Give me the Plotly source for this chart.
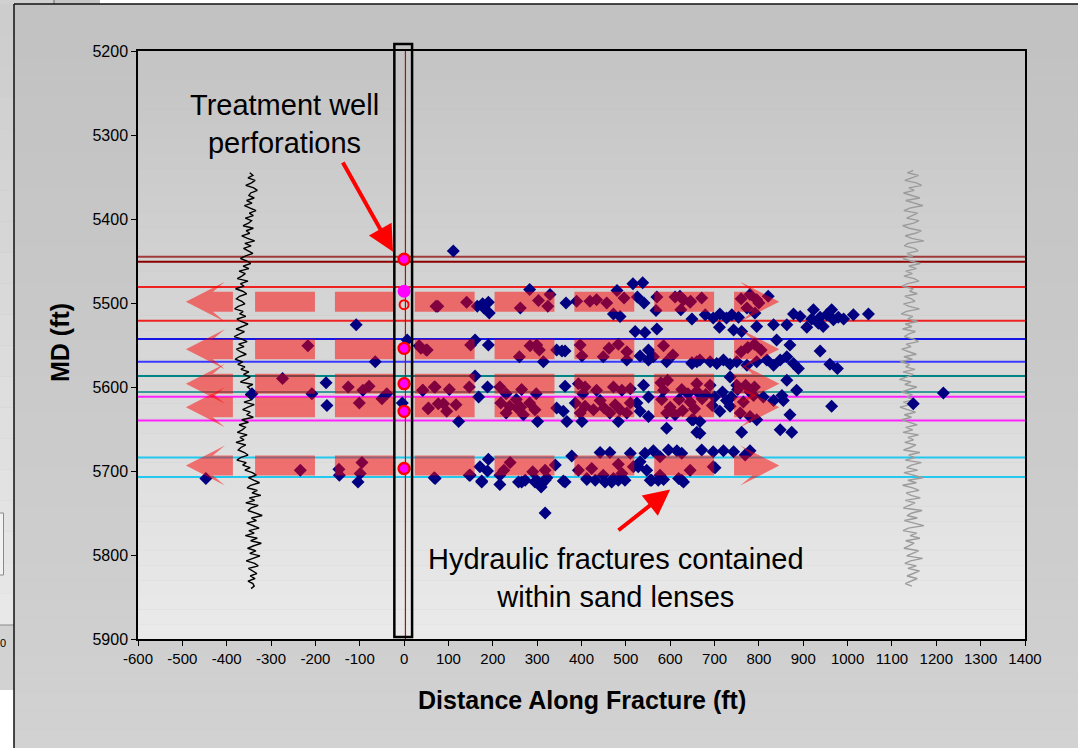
import plotly.graph_objects as go

# ---------------- data ----------------
# microseismic event locations (distance along fracture ft, measured depth ft)
ev_x = [-447,-234,-147,-146,-95,-99,-104,68,-108,-217,-65,34,50,7,-274,-176,-343,-208,-126,-93,-79,-39,-50,-101,-174,-4,42,68,54,77,72,
        111,283,76,141,165,177,190,192,180,262,303,324,329,365,389,419,434,457,480,496,472,487,516,538,526,541,570,568,611,630,646,624,649,543,570,
        38,52,150,160,190,284,299,305,260,314,344,356,363,397,401,449,462,483,502,502,532,551,551,562,521,585,606,592,649,660,
        160,42,70,102,147,188,168,216,230,265,298,363,393,408,403,434,472,491,510,540,551,579,594,585,
        55,89,117,96,123,218,230,253,263,283,295,269,238,255,301,344,359,367,386,397,408,427,442,451,464,476,487,502,510,401,483,525,532,551,581,600,592,611,592,660,652,
        190,171,188,175,70,147,216,239,225,258,273,290,299,311,318,322,341,359,378,393,412,423,442,449,464,472,483,491,510,517,532,543,562,577,596,615,577,558,547,626,645,
        149,175,216,265,295,309,318,363,318,412,431,453,468,483,498,555,573,585,619,630,528,701,
        821,795,773,622,645,671,679,697,712,727,739,754,711,743,791,795,761,833,863,878,893,908,923,934,953,964,979,991,1013,1047,919,938,945,968,
        840,870,938,649,667,690,705,720,735,750,773,795,818,833,848,863,878,889,960,977,863,885,
        735,788,810,833,852,855,712,735,758,780,795,870,964,1148,1216,649,667,667,761,848,874,
        671,697,720,743,780,769,697,626,
        626,640,660,680,700,718,738,752,620,645,672,695,727,690,660,750,765,628,655,
        775,790,805,760,780,800,760,770,790,780]
ev_md = [5709,5699,5698,5705,5690,5703,5713,5708,5526,5551,5570,5551,5556,5544,5590,5595,5608,5608,5600,5604,5599,5608,5614,5619,5622,5619,5604,5600,5626,5620,5504,
         5438,5484,5504,5499,5504,5501,5499,5512,5506,5506,5497,5504,5490,5500,5498,5498,5496,5500,5485,5494,5513,5516,5477,5476,5493,5500,5493,5509,5493,5496,5498,5508,5519,5535,5531,
         5554,5556,5550,5544,5550,5551,5550,5556,5564,5570,5556,5557,5557,5550,5563,5564,5554,5549,5558,5568,5563,5556,5568,5564,5534,5551,5562,5570,5572,5570,
         5587,5604,5600,5603,5600,5600,5612,5600,5608,5603,5608,5599,5596,5600,5608,5604,5600,5604,5602,5598,5612,5595,5592,5604,
         5625,5620,5621,5629,5641,5619,5631,5615,5624,5619,5627,5633,5623,5625,5641,5625,5629,5641,5619,5631,5623,5627,5616,5625,5631,5621,5627,5631,5619,5641,5641,5619,5629,5635,5615,5624,5631,5633,5649,5654,5639,
         5686,5695,5700,5712,5709,5705,5705,5690,5699,5713,5711,5701,5711,5715,5699,5708,5693,5712,5682,5699,5709,5697,5678,5705,5678,5709,5692,5703,5679,5695,5689,5679,5676,5683,5675,5676,5705,5711,5699,5711,5699,
         5705,5713,5716,5713,5713,5719,5711,5713,5750,5710,5711,5713,5713,5711,5711,5711,5711,5710,5709,5713,5695,5696,
         5492,5496,5506,5492,5499,5494,5514,5518,5513,5518,5514,5517,5529,5532,5512,5528,5534,5526,5526,5513,5516,5529,5508,5524,5514,5508,5517,5519,5514,5513,5519,5517,5528,5520,
         5544,5550,5557,5571,5568,5570,5572,5568,5573,5570,5574,5570,5568,5574,5568,5564,5572,5578,5573,5578,5592,5604,
         5588,5610,5612,5616,5610,5616,5629,5623,5631,5635,5639,5633,5623,5620,5607,5639,5641,5655,5654,5651,5654,
         5675,5677,5676,5677,5676,5681,5695,5679,
         5603,5608,5605,5609,5612,5606,5612,5603,5615,5618,5614,5622,5616,5598,5596,5598,5618,5628,5626,
         5553,5549,5556,5558,5490,5500,5495,5598,5600,5606]

# treatment well perforations (MD)
perf_ring_md = [5448, 5554, 5596, 5629, 5697]
perf_solid_md = [5486]
perf_open_md = [5502]

# horizon tops (MD) and their colours
horizon_md = [5445, 5451, 5481, 5521, 5543, 5570, 5587, 5606, 5611.5, 5640, 5684, 5707]
horizon_col = ["#a03a3a", "#8b0000", "#ee2222", "#ee2222", "#1515e6", "#3a3aff",
               "#008585", "#3a9a9a", "#ff22ff", "#ff22ff", "#22c8ee", "#22c8ee"]

# sand-lens fracture bands (centre MD) and dash starts along fracture (ft)
band_md = [5498.5, 5555, 5596, 5624, 5693.5]
dash_start = [-336, -156, 24, 204, 384, 564]
dash_len = 135

# log curves (x position in chart units), sampled every 3 ft
log1_md = list(range(5345, 5843, 3))
log1_x = [-348,-341,-352,-336,-344,-357,-339,-331,-346,-350,
          -338,-355,-343,-360,-347,-334,-349,-340,-358,-344,
          -351,-363,-340,-356,-348,-366,-353,-337,-359,-345,
          -362,-350,-341,-357,-369,-354,-346,-363,-350,-372,
          -358,-366,-376,-352,-369,-361,-380,-364,-355,-371,
          -378,-366,-359,-374,-382,-363,-370,-357,-377,-368,
          -352,-365,-379,-360,-371,-383,-366,-354,-373,-361,
          -378,-369,-356,-372,-381,-364,-375,-359,-368,-350,
          -362,-347,-357,-369,-341,-353,-346,-336,-358,-349,
          -343,-361,-338,-352,-364,-347,-355,-340,-366,-351,
          -372,-358,-365,-376,-354,-370,-361,-379,-357,-368,
          -374,-360,-352,-369,-377,-356,-364,-347,-359,-342,
          -333,-351,-338,-326,-346,-354,-331,-343,-323,-349,
          -337,-357,-329,-345,-352,-336,-320,-344,-333,-355,
          -341,-327,-350,-338,-358,-331,-346,-322,-339,-353,
          -334,-348,-325,-343,-356,-337,-329,-351,-340,-332,
          -347,-336,-352,-341,-338,-345]
log2_md = list(range(5342, 5840, 3))
log2_x = [1148,1135,1160,1142,1129,1155,1167,1138,1150,1126,
          1144,1163,1131,1152,1170,1140,1127,1158,1146,1133,
          1161,1149,1124,1139,1166,1153,1130,1145,1172,1136,
          1128,1151,1159,1134,1147,1125,1142,1164,1138,1155,
          1131,1146,1127,1150,1161,1135,1123,1148,1140,1157,
          1129,1144,1152,1126,1139,1162,1133,1121,1147,1136,
          1158,1130,1145,1124,1153,1137,1128,1149,1160,1132,
          1143,1122,1138,1155,1127,1146,1119,1140,1131,1152,
          1125,1148,1134,1117,1143,1129,1156,1137,1121,1146,
          1133,1150,1126,1141,1118,1135,1153,1128,1144,1122,
          1139,1157,1131,1147,1125,1160,1136,1149,1129,1154,
          1142,1126,1163,1138,1151,1130,1166,1144,1133,1158,
          1127,1149,1170,1136,1155,1124,1147,1161,1132,1143,
          1164,1130,1152,1139,1126,1168,1145,1134,1157,1128,
          1149,1172,1137,1125,1156,1141,1163,1131,1150,1138,
          1127,1160,1146,1133,1169,1142,1129,1155,1136,1162,
          1148,1134,1157,1141,1130,1145]

x_ticks = list(range(-600, 1401, 100))
y_ticks = list(range(5200, 5901, 100))

# ---------------- geometry helpers ----------------
FW, FH = 1078, 748
L, R, T, B = 138, 53, 51, 109
PW, PH = FW - L - R, FH - T - B


def px(xp):
    return (xp - L) / PW


def py(yp):
    return (FH - B - yp) / PH


FONT = "Liberation Sans, Arial, sans-serif"

fig = go.Figure()
shapes = []

# outer frame gradient + plot gradient (paper refs, below everything)
N = 40
for i in range(N):
    y0p, y1p = 4 + (FH - 4) * i / N, 4 + (FH - 4) * (i + 1) / N
    c = int(194 + 16 * i / (N - 1))
    shapes.append(dict(type="rect", xref="paper", yref="paper", x0=px(14), x1=px(FW + 5),
                       y0=py(y1p), y1=py(y0p), fillcolor=f"rgb({c},{c},{c})",
                       line=dict(width=0), layer="below"))
for i in range(N):
    y0p, y1p = T + PH * i / N, T + PH * (i + 1) / N
    c = int(197 + 37 * i / (N - 1))
    shapes.append(dict(type="rect", xref="paper", yref="paper", x0=0, x1=1,
                       y0=py(y1p), y1=py(y0p), fillcolor=f"rgb({c},{c},{c})",
                       line=dict(width=0), layer="below"))
# left strip (neighbouring chart)
for i in range(20):
    y0p, y1p = 4 + 621 * i / 20, 4 + 621 * (i + 1) / 20
    c = int(205 + 27 * i / 19)
    shapes.append(dict(type="rect", xref="paper", yref="paper", x0=px(-2), x1=px(14),
                       y0=py(y1p), y1=py(y0p), fillcolor=f"rgb({c},{c},{c})",
                       line=dict(width=0), layer="below"))
shapes += [
    dict(type="rect", xref="paper", yref="paper", x0=px(-2), x1=px(14), y0=py(690), y1=py(625),
         fillcolor="#d2d2d2", line=dict(width=0), layer="below"),
    dict(type="rect", xref="paper", yref="paper", x0=px(-2), x1=px(14), y0=py(FH + 2), y1=py(690),
         fillcolor="#ffffff", line=dict(width=0), layer="below"),
    dict(type="line", xref="paper", yref="paper", x0=px(-2), x1=px(14), y0=py(625), y1=py(625),
         line=dict(color="#8a8a8a", width=1), layer="below"),
    dict(type="rect", xref="paper", yref="paper", x0=px(-3), x1=px(3.5), y0=py(575), y1=py(513),
         fillcolor="#f2f2f2", line=dict(color="#8a8a8a", width=1), layer="below"),
    # top strip
    dict(type="rect", xref="paper", yref="paper", x0=px(-2), x1=px(54), y0=py(4), y1=py(-2),
         fillcolor="#d0d0d0", line=dict(width=0), layer="below"),
    dict(type="rect", xref="paper", yref="paper", x0=px(54), x1=px(100), y0=py(4), y1=py(-2),
         fillcolor="#c6c6c6", line=dict(width=0), layer="below"),
    dict(type="rect", xref="paper", yref="paper", x0=px(100), x1=px(FW + 5), y0=py(4), y1=py(-2),
         fillcolor="#ffffff", line=dict(width=0), layer="below"),
    dict(type="line", xref="paper", yref="paper", x0=px(54), x1=px(54), y0=py(4), y1=py(-2),
         line=dict(color="#666666", width=1), layer="below"),
    # outer frame border
    dict(type="line", xref="paper", yref="paper", x0=px(14), x1=px(14), y0=py(FH + 2), y1=py(4),
         line=dict(color="#111111", width=1.5), layer="below"),
    dict(type="line", xref="paper", yref="paper", x0=px(14), x1=px(FW + 5), y0=py(4), y1=py(4),
         line=dict(color="#111111", width=1.5), layer="below"),
]

# horizons
for md, col in zip(horizon_md, horizon_col):
    fig.add_trace(go.Scatter(x=[-600, 1400], y=[md, md], mode="lines",
                             line=dict(color=col, width=2), hoverinfo="skip", showlegend=False))

# treatment well trace (vertical line at x=0)
fig.add_trace(go.Scatter(x=[3, 3], y=[5200, 5900], mode="lines",
                         line=dict(color="#b01010", width=1.2), showlegend=False, hoverinfo="skip"))

# logs
fig.add_trace(go.Scatter(x=log1_x, y=log1_md, mode="lines",
                         line=dict(color="#000000", width=1.4), showlegend=False))
fig.add_trace(go.Scatter(x=log2_x, y=log2_md, mode="lines",
                         line=dict(color="#9c9c9c", width=1.4), showlegend=False))

# microseismic events
fig.add_trace(go.Scatter(x=ev_x, y=ev_md, mode="markers",
                         marker=dict(symbol="diamond", size=10, color="#000080", line=dict(width=0)),
                         showlegend=False))

# fracture bands (dashed block arrows) built from band centres & dash starts
HH, HB = 11.9, 23.8           # half heights (ft) of shaft and barbs
for md in band_md:
    xs, ys = [], []
    lx = [-492, -404, -431, -386, -386, -431, -404, -492]
    ly = [md, md - HB, md - HH, md - HH, md + HH, md + HH, md + HB, md]
    xs += lx + [None]
    ys += ly + [None]
    for s in dash_start:
        xs += [s, s + dash_len, s + dash_len, s, s, None]
        ys += [md - HH, md - HH, md + HH, md + HH, md - HH, None]
    rx = [744, 785, 758, 846, 758, 785, 744, 744]
    ry = [md - HH, md - HH, md - HB, md, md + HB, md + HH, md + HH, md - HH]
    xs += rx
    ys += ry
    fig.add_trace(go.Scatter(x=xs, y=ys, mode="lines", fill="toself",
                             fillcolor="rgba(255,0,0,0.5)", line=dict(width=0),
                             hoverinfo="skip", showlegend=False))

# perforations
fig.add_trace(go.Scatter(x=[0] * len(perf_ring_md), y=perf_ring_md, mode="markers",
                         marker=dict(symbol="circle", size=11, color="#ff00ff",
                                     line=dict(color="#ff0000", width=2.4)), showlegend=False))
fig.add_trace(go.Scatter(x=[0] * len(perf_solid_md), y=perf_solid_md, mode="markers",
                         marker=dict(symbol="circle", size=13, color="#ff00ff", line=dict(width=0)),
                         showlegend=False))
fig.add_trace(go.Scatter(x=[0] * len(perf_open_md), y=perf_open_md, mode="markers",
                         marker=dict(symbol="circle-open", size=9, color="#ff0000",
                                     line=dict(color="#ff0000", width=2)), showlegend=False))

# black box around the treatment well
shapes.append(dict(type="rect", xref="x", yref="paper", x0=-22, x1=18, y0=py(637), y1=py(44),
                   line=dict(color="#000000", width=2.5), fillcolor="rgba(0,0,0,0)", layer="above"))

annotations = [
    dict(text="<b>MD (ft)</b>", xref="paper", yref="paper", x=px(60), y=py(343), textangle=-90,
         showarrow=False, font=dict(family=FONT, size=25, color="#000000"), xanchor="center", yanchor="middle"),
    dict(text="<b>Distance Along Fracture (ft)</b>", xref="paper", yref="paper", x=px(582), y=py(700),
         showarrow=False, font=dict(family=FONT, size=25, color="#000000"), xanchor="center", yanchor="middle"),
    dict(text="Treatment well<br>perforations", xref="paper", yref="paper", x=px(284), y=py(124),
         showarrow=False, font=dict(family=FONT, size=29, color="#000000"), xanchor="center", yanchor="middle"),
    dict(text="Hydraulic fractures contained<br>within sand lenses", xref="paper", yref="paper",
         x=px(616), y=py(578), showarrow=False, font=dict(family=FONT, size=29, color="#000000"),
         xanchor="center", yanchor="middle"),
    dict(text="", x=-25, y=5439, xref="x", yref="y", ax=-140, ay=5331, axref="x", ayref="y",
         showarrow=True, arrowhead=2, arrowsize=1.3, arrowwidth=4, arrowcolor="#ff0000"),
    dict(text="", x=600, y=5722, xref="x", yref="y", ax=480, ay=5772, axref="x", ayref="y",
         showarrow=True, arrowhead=2, arrowsize=1.3, arrowwidth=4, arrowcolor="#ff0000"),
    dict(text="0", xref="paper", yref="paper", x=px(3), y=py(643), showarrow=False,
         font=dict(family=FONT, size=11, color="#000000"), xanchor="center", yanchor="middle"),
]

fig.update_layout(
    width=FW, height=FH,
    margin=dict(l=L, r=R, t=T, b=B, pad=0),
    paper_bgcolor="#c8c8c8", plot_bgcolor="rgba(0,0,0,0)",
    shapes=shapes, annotations=annotations, showlegend=False,
    font=dict(family=FONT, color="#000000"),
    xaxis=dict(range=[-600, 1400], tickmode="array", tickvals=x_ticks, ticktext=[str(v) for v in x_ticks],
               showgrid=False, zeroline=False, showline=True, linecolor="#000000", linewidth=1.5,
               mirror=True, ticks="outside", ticklen=5, tickcolor="#000000",
               tickfont=dict(family=FONT, size=15, color="#000000")),
    yaxis=dict(range=[5900, 5200], tickmode="array", tickvals=y_ticks, ticktext=[str(v) for v in y_ticks],
               showgrid=False, zeroline=False, showline=True, linecolor="#000000", linewidth=1.5,
               mirror=True, ticks="outside", ticklen=5, tickcolor="#000000",
               tickfont=dict(family=FONT, size=16, color="#000000")),
)

fig.write_html("out.html")
